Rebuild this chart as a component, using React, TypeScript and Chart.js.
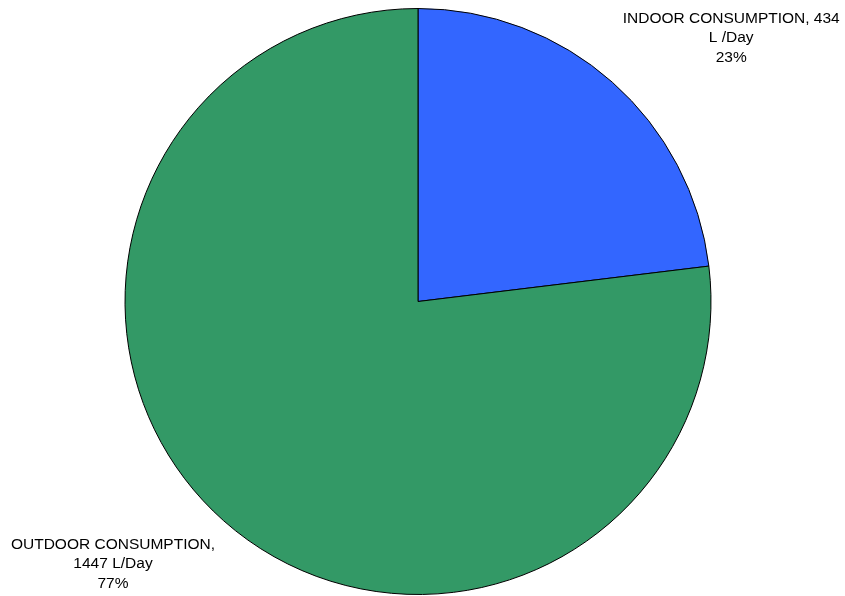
import React, { useEffect, useRef } from "react";
import { Chart, registerables } from "chart.js";

Chart.register(...registerables);

const categories = ["INDOOR CONSUMPTION", "OUTDOOR CONSUMPTION"];
const values = [434, 1447];
const labelLines = [
  ["INDOOR CONSUMPTION, 434", "L /Day", "23%"],
  ["OUTDOOR CONSUMPTION,", "1447 L/Day", "77%"],
];
const colors = ["#3366FF", "#339966"];

const labelPlugin = {
  id: "sliceLabels",
  afterDraw(chart: any) {
    const ctx = chart.ctx;
    const meta = chart.getDatasetMeta(0);
    ctx.save();
    ctx.font = "15.5px 'Liberation Sans', Arial, sans-serif";
    ctx.fillStyle = "#000";
    ctx.textAlign = "center";
    ctx.textBaseline = "middle";
    meta.data.forEach((arc: any, i: number) => {
      const { x, y, outerRadius } = arc.getProps(["x", "y", "outerRadius"], true);
      let lx: number, ly: number;
      if (i === 0) {
        lx = x + outerRadius * 1.069;
        ly = y - outerRadius * 0.966;
      } else {
        lx = x - outerRadius * 1.041;
        ly = y + outerRadius * 0.829;
      }
      labelLines[i].forEach((t, k) => ctx.fillText(t, lx, ly + k * 19.5));
    });
    ctx.restore();
  },
};

export default function App() {
  const ref = useRef<HTMLCanvasElement>(null);
  useEffect(() => {
    document.body.style.margin = "0";
    const chart = new Chart(ref.current!, {
      type: "pie",
      data: {
        labels: categories,
        datasets: [
          {
            data: values,
            backgroundColor: colors,
            borderColor: "#000",
            borderWidth: 1,
          },
        ],
      },
      options: {
        animation: false,
        responsive: false,
        layout: { padding: { left: 124, right: 133, top: 8, bottom: 1 } },
        plugins: { legend: { display: false }, tooltip: { enabled: false } },
      },
      plugins: [labelPlugin],
    });
    return () => chart.destroy();
  }, []);
  return (
    <div style={{ width: 845, height: 596, background: "#fff" }}>
      <canvas ref={ref} width={845} height={596} />
    </div>
  );
}
